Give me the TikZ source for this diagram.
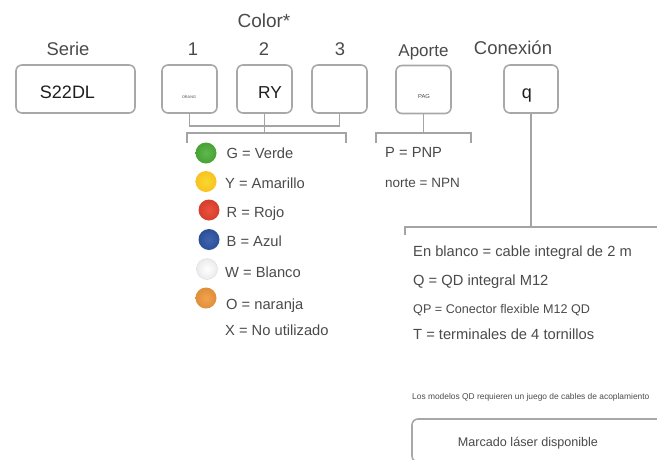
\documentclass[tikz,border=0pt]{standalone}
\usepackage{fontspec}
\setmainfont{Liberation Sans}
\definecolor{linegray}{HTML}{A4A4A4}
\definecolor{boxgray}{HTML}{A8A8A8}
\definecolor{txtgray}{HTML}{4A4A4A}
\definecolor{txtdark}{HTML}{1E1E1E}
\definecolor{cgreen}{HTML}{4DB03A}
\definecolor{cyellow}{HTML}{F7D82C}
\definecolor{cred}{HTML}{E8432E}
\definecolor{cblue}{HTML}{3058A8}
\definecolor{corange}{HTML}{F29A3E}
\newcommand{\fs}[1]{\fontsize{#1}{#1}\selectfont}
\tikzset{
  codebox/.style={draw=boxgray, line width=1.6pt, rounded corners=6pt, fill=white},
  conn/.style={draw=linegray, line width=1.5pt},
  head/.style={anchor=base, text=txtgray, inner sep=0pt},
  boxtxt/.style={anchor=base, text=txtdark, inner sep=0pt},
  legtxt/.style={anchor=base west, text=txtgray, inner sep=0pt, font=\fs{14.7}},
  dot/.style={circle, minimum size=21pt, inner sep=0pt},
}
\begin{document}
\begin{tikzpicture}[x=1pt, y=-1pt]
\useasboundingbox (0,0) rectangle (657,459);
% headings
\node[head, font=\fs{18.4}] (hserie) at (68,55) {Serie};
\node[head, font=\fs{19}] (hcolor) at (264,27) {Color*};
\node[head, font=\fs{18.4}] (h1) at (193,55) {1};
\node[head, font=\fs{18.4}] (h2) at (264,55) {2};
\node[head, font=\fs{18.4}] (h3) at (340,55) {3};
\node[head, font=\fs{17}] (hap) at (423.5,56) {Aporte};
\node[head, font=\fs{18.5}] (hcon) at (513,54) {Conexión};
% boxes
\node[codebox, minimum width=119pt, minimum height=48pt] (bs) at (75.5,89) {};
\node[codebox, minimum width=55pt, minimum height=48pt] (b1) at (189.5,89) {};
\node[codebox, minimum width=55pt, minimum height=48pt] (b2) at (264.5,89) {};
\node[codebox, minimum width=55pt, minimum height=48pt] (b3) at (339.5,89) {};
\node[codebox, minimum width=55pt, minimum height=48pt] (ba) at (423.5,89.5) {};
\node[codebox, minimum width=54pt, minimum height=48pt] (bq) at (531,89) {};
% box texts
\node[boxtxt, font=\fs{18}] (ts) at (67.5,98.3) {S22DL};
\node[boxtxt, font=\fs{3.8}, text=txtgray] (t1) at (189,98.5) {ORANG};
\node[boxtxt, font=\fs{17.3}] (t2) at (270,98.3) {RY};
\node[boxtxt, font=\fs{5.8}, text=txtgray] (ta) at (424,98.5) {PAG};
\node[boxtxt, font=\fs{18}] (tq) at (527,98) {q};
% colour connectors
\coordinate (cj) at (264.5,126);
\coordinate (cb) at (264.5,133);
\coordinate (cl) at (187,143);
\coordinate (cr) at (346,143);
\draw[conn] (b1.south) |- (b3.south |- cj) -- (b3.south);
\draw[conn] (b2.south) -- (cb);
\draw[conn] (cl) -- (cl |- cb) -- (cr |- cb) -- (cr);
% aporte connectors
\coordinate (ab) at (423.5,133);
\coordinate (al) at (376,143);
\coordinate (ar) at (471,143);
\draw[conn] (ba.south) -- (ab);
\draw[conn] (al) -- (al |- ab) -- (ar |- ab) -- (ar);
% conexion connectors
\coordinate (qb) at (531,227);
\coordinate (ql) at (405,235);
\coordinate (qr) at (657,227);
\draw[conn] (bq.south) -- (qb);
\draw[conn] (ql) -- (ql |- qb) -- (qr);
% colour legend
\node[dot, shade, inner color=cgreen!90!white, outer color=cgreen!92!black] (dg) at (206,153) {};
\node[dot, shade, inner color=cyellow, outer color=cyellow!75!orange] (dy) at (206,181.5) {};
\node[dot, shade, inner color=cred!92!white, outer color=cred!92!black] (dr) at (209,210) {};
\node[dot, shade, inner color=cblue!92!white, outer color=cblue!90!black] (db) at (209,239.5) {};
\node[dot, shade, inner color=white, outer color=black!8, draw=black!12, line width=0.5pt] (dw) at (207,269) {};
\node[dot, shade, inner color=corange!92!white, outer color=corange!92!black] (do) at (206,298) {};
\node[legtxt] (lg) at (226.5,158) {G = Verde};
\node[legtxt] (ly) at (225,188) {Y = Amarillo};
\node[legtxt] (lr) at (226.5,217) {R = Rojo};
\node[legtxt] (lb) at (226.5,246) {B = Azul};
\node[legtxt] (lw) at (225,277) {W = Blanco};
\node[legtxt] (lo) at (226,309) {O = naranja};
\node[legtxt] (lx) at (225,335) {X = No utilizado};
% aporte legend
\node[legtxt] (lp) at (385,157) {P = PNP};
\node[legtxt, font=\fs{13.5}] (ln) at (385,187) {norte = NPN};
% conexion legend
\node[legtxt] (c1) at (413,256) {En blanco = cable integral de 2 m};
\node[legtxt] (c2) at (413,285) {Q = QD integral M12};
\node[legtxt, font=\fs{12.6}] (c3) at (413,313) {QP = Conector flexible M12 QD};
\node[legtxt] (c4) at (413,339) {T = terminales de 4 tornillos};
\node[legtxt, font=\fs{8.4}] (note) at (412,399) {Los modelos QD requieren un juego de cables de acoplamiento};
% laser box
\begin{scope}
\clip (0,0) rectangle (657,459);
\draw[codebox] (412,419) rectangle (720,462);
\end{scope}
\node[head, font=\fs{12.6}] (laser) at (528,446) {Marcado láser disponible};
\end{tikzpicture}
\end{document}
